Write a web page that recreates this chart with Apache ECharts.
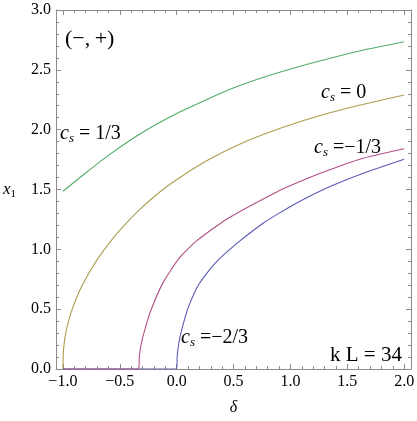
<!DOCTYPE html>
<html>
<head>
<meta charset="utf-8">
<script src="https://cdn.jsdelivr.net/npm/echarts@6/dist/echarts.min.js"></script>
<style>
  html, body { margin: 0; padding: 0; background: #fff; }
  #chart { width: 417px; height: 421px; }
</style>
</head>
<body>
<div id="chart"></div>
<script>
// values (delta -> x1)
var blueDelta = [-1, 0, 0.005, 0.02, 0.04, 0.097, 0.197, 0.339, 0.53, 0.763, 0.88, 1.048, 1.333, 1.618, 2.0]
var blueX1 = [0, 0, 0.11, 0.22, 0.31, 0.5, 0.71, 0.885, 1.05, 1.22, 1.29, 1.383, 1.518, 1.628, 1.753]

var redDelta = [-1, -0.3333, -0.328, -0.313, -0.288, -0.231, -0.117, 0.026, 0.168, 0.453, 0.88, 1.048, 1.333, 1.618, 2.0]
var redX1 = [0, 0, 0.1, 0.2, 0.3, 0.479, 0.726, 0.93, 1.065, 1.26, 1.48, 1.552, 1.66, 1.755, 1.84]

var yellowDelta = [-1, -0.995, -0.98, -0.95, -0.9, -0.83, -0.7, -0.544, -0.444, -0.33, -0.188, -0.017, 0.268, 0.553, 0.923, 1.3, 1.664, 2.0]
var yellowX1 = [0, 0.15, 0.27, 0.4, 0.546, 0.7, 0.912, 1.11, 1.216, 1.327, 1.448, 1.571, 1.742, 1.879, 2.016, 2.129, 2.216, 2.29]

var greenDelta = [-1, -0.8, -0.615, -0.33, 0.0, 0.25, 0.481, 0.763, 1.048, 1.333, 1.618, 2.0]
var greenX1 = [1.485, 1.638, 1.775, 1.96, 2.135, 2.245, 2.342, 2.438, 2.52, 2.593, 2.66, 2.734]

var seriesNames = ['c_s = -2/3', 'c_s = -1/3', 'c_s = 0', 'c_s = 1/3']
var seriesColors = ['#5a5ab4', '#b24f86', '#ad9d4e', '#52ad68']

var serif = 'Liberation Serif, DejaVu Serif, serif'
var frameColor = '#8c8c8c'

function pairs(xs, ys) {
  return xs.map(function(x, i) { return [x, ys[i]] })
}

function tickText(v) {
  if (Math.abs(v * 2 - Math.round(v * 2)) > 1e-6) return ''
  return v.toFixed(1).replace('-', '\u2212')
}

var csRich = {
  c: { fontFamily: serif, fontStyle: 'italic', fontSize: 20, lineHeight: 22 },
  s: { fontFamily: serif, fontStyle: 'italic', fontSize: 13, lineHeight: 10, verticalAlign: 'bottom' },
  t: { fontFamily: serif, fontSize: 20, lineHeight: 22 }
}

function csLabel(left, top, rest) {
  return {
    type: 'text',
    left: left,
    top: top,
    style: { text: '{c|c}{s|s}{t|' + rest + '}', rich: csRich, fill: '#000' }
  }
}

function frameAxis(pos, labels, extra) {
  var a = {
    type: 'value',
    position: pos,
    axisLine: { show: true, onZero: false, lineStyle: { color: frameColor, width: 1 } },
    axisTick: { show: true, inside: true, length: 5, lineStyle: { color: frameColor } },
    minorTick: { show: true, splitNumber: 5, length: 3, lineStyle: { color: frameColor } },
    splitLine: { show: false },
    minorSplitLine: { show: false },
    axisLabel: labels ? {
      show: true,
      color: '#000',
      fontFamily: serif,
      fontSize: 16,
      margin: 5,
      formatter: tickText
    } : { show: false }
  }
  return Object.assign(a, extra)
}

var chart = echarts.init(document.getElementById('chart'))

var xRange = { min: -1.06, max: 2.06, splitNumber: 6 }
var yRange = { min: 0, max: 3, interval: 0.5 }

chart.setOption({
  animation: false,
  backgroundColor: '#fff',
  grid: { left: 48, right: 4, top: 10, bottom: 46, containLabel: false },
  xAxis: [
    frameAxis('bottom', true, Object.assign({
      name: '\u03b4',
      nameLocation: 'middle',
      nameGap: 31,
      nameTextStyle: { fontFamily: serif, fontStyle: 'italic', fontSize: 16, color: '#000' }
    }, xRange)),
    frameAxis('top', false, Object.assign({}, xRange))
  ],
  yAxis: [
    frameAxis('left', true, Object.assign({
      name: '{x|x}{n|1}',
      nameLocation: 'middle',
      nameRotate: 0,
      nameGap: 40,
      nameTextStyle: {
        rich: {
          x: { fontFamily: serif, fontStyle: 'italic', fontSize: 17, lineHeight: 20, color: '#000' },
          n: { fontFamily: serif, fontSize: 11, lineHeight: 8, verticalAlign: 'bottom', color: '#000' }
        }
      }
    }, yRange)),
    frameAxis('right', false, Object.assign({}, yRange))
  ],
  series: [
    pairs(blueDelta, blueX1),
    pairs(redDelta, redX1),
    pairs(yellowDelta, yellowX1),
    pairs(greenDelta, greenX1)
  ].map(function(d, i) {
    return {
      name: seriesNames[i],
      type: 'line',
      data: d,
      showSymbol: false,
      symbol: 'none',
      smooth: 0.2,
      lineStyle: { color: seriesColors[i], width: 1.1 },
      z: 2 + i
    }
  }),
  graphic: [
    {
      type: 'text',
      left: 65,
      top: 28,
      style: { text: '(\u2212,\u2009+)', font: '22px ' + serif, fill: '#000' }
    },
    csLabel(60, 124, ' = 1/3'),
    csLabel(321, 83, ' = 0'),
    csLabel(314, 138, ' =\u22121/3'),
    csLabel(181, 328, ' =\u22122/3'),
    {
      type: 'text',
      left: 330,
      top: 345,
      style: { text: 'k L = 34', font: '21px ' + serif, fill: '#000' }
    }
  ]
})
</script>
</body>
</html>
